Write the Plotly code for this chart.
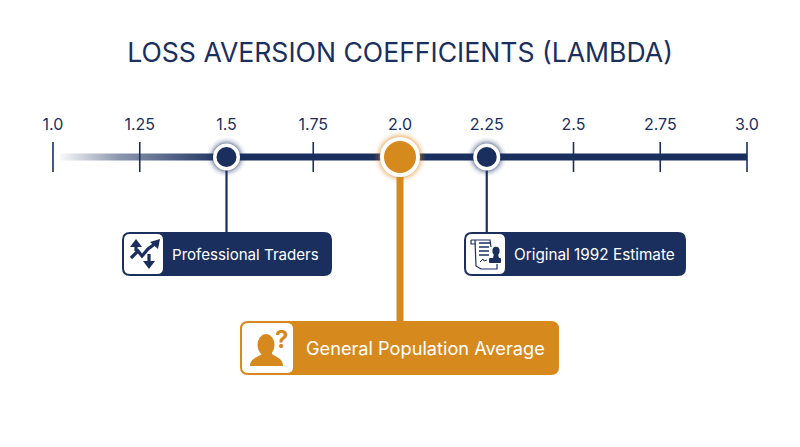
import plotly.graph_objects as go

W, H = 800, 447
NAVY = "#1a2f5e"
ORANGE = "#d68a1e"
FONT = "Inter, Lato, sans-serif"

# ---- data ----
title_text = "LOSS AVERSION COEFFICIENTS (LAMBDA)"
tick_values = [1.0, 1.25, 1.5, 1.75, 2.0, 2.25, 2.5, 2.75, 3.0]
tick_labels = ["1.0", "1.25", "1.5", "1.75", "2.0", "2.25", "2.5", "2.75", "3.0"]
plain_ticks = [1.0, 1.25, 1.75, 2.5, 2.75, 3.0]
categories = ["Professional Traders", "General Population Average", "Original 1992 Estimate"]
lambdas = [1.5, 2.0, 2.25]
fade_start, fade_end = 1.02, 1.5
line_end = 3.0

# ---- layout constants (pixels) ----
PX_PER_UNIT = 347
AXIS_Y = 157
cards = {
    categories[0]: dict(box=(122, 232, 332, 276), icon=(124, 234, 163, 274), tx=170, ty=254, size=15.1, color=NAVY),
    categories[1]: dict(box=(240, 321, 559, 375), icon=(242, 323, 293, 373), tx=304, ty=348, size=18.2, color=ORANGE),
    categories[2]: dict(box=(464, 232, 686, 276), icon=(466, 234, 505, 274), tx=512, ty=254, size=15.3, color=NAVY),
}


def px(x):
    return x / W


def py(y):
    return 1 - y / H


def pt(x, y):
    return f"{px(x):.5f},{py(y):.5f}"


def rrect(x0, y0, x1, y1, r):
    return (f"M{pt(x0 + r, y0)} L{pt(x1 - r, y0)} Q{pt(x1, y0)} {pt(x1, y0 + r)} "
            f"L{pt(x1, y1 - r)} Q{pt(x1, y1)} {pt(x1 - r, y1)} "
            f"L{pt(x0 + r, y1)} Q{pt(x0, y1)} {pt(x0, y1 - r)} "
            f"L{pt(x0, y0 + r)} Q{pt(x0, y0)} {pt(x0 + r, y0)} Z")


def poly(points, close=False):
    s = "M" + " L".join(pt(x, y) for x, y in points)
    return s + (" Z" if close else "")


def ellipse(cx, cy, rx, ry, **kw):
    return dict(type="circle", xref="paper", yref="paper", x0=px(cx - rx), x1=px(cx + rx),
                y0=py(cy + ry), y1=py(cy - ry), layer="above", **kw)


def fill_path(path, color):
    return dict(type="path", xref="paper", yref="paper", path=path, fillcolor=color,
                line=dict(width=0), layer="above")


def stroke_path(path, color, width):
    return dict(type="path", xref="paper", yref="paper", path=path, fillcolor="rgba(0,0,0,0)",
                line=dict(color=color, width=width), layer="above")


fig = go.Figure()

# faded start of the line
fig.add_trace(go.Scatter(
    x=[fade_start, fade_end, fade_end, fade_start, fade_start],
    y=[AXIS_Y - 3.5, AXIS_Y - 3.5, AXIS_Y + 3.5, AXIS_Y + 3.5, AXIS_Y - 3.5],
    mode="lines", line=dict(width=0), fill="toself",
    fillgradient=dict(type="horizontal",
                      colorscale=[[0, "rgba(26,47,94,0.03)"], [0.35, "rgba(26,47,94,0.5)"],
                                  [0.8, "rgba(26,47,94,0.85)"], [1, NAVY]]),
    hoverinfo="skip", showlegend=False))
# solid part
fig.add_trace(go.Scatter(x=[fade_end, line_end], y=[AXIS_Y, AXIS_Y], mode="lines",
                         line=dict(color=NAVY, width=7), hoverinfo="skip", showlegend=False))
# ticks
tx, ty = [], []
for v in plain_ticks:
    tx += [v, v, None]
    ty += [142, 172, None]
fig.add_trace(go.Scatter(x=tx, y=ty, mode="lines", line=dict(color=NAVY, width=1.6),
                         hoverinfo="skip", showlegend=False))

# connectors and markers
for name, val in zip(categories, lambdas):
    c = cards[name]
    big = c["color"] == ORANGE
    fig.add_trace(go.Scatter(x=[val, val], y=[AXIS_Y, c["box"][1] + 1], mode="lines",
                             line=dict(color=c["color"], width=7 if big else 2.2),
                             hoverinfo="skip", showlegend=False))
    ring = 40 if big else 27
    core = 32 if big else 20
    for extra, op in ((12, 0.06), (8, 0.10), (5, 0.16), (2, 0.24)):
        fig.add_trace(go.Scatter(x=[val], y=[AXIS_Y], mode="markers",
                                 marker=dict(size=ring + extra, color=c["color"], opacity=op, line=dict(width=0)),
                                 hoverinfo="skip", showlegend=False))
    fig.add_trace(go.Scatter(x=[val], y=[AXIS_Y], mode="markers",
                             marker=dict(size=ring, color="white", line=dict(width=0)),
                             hoverinfo="skip", showlegend=False))
    fig.add_trace(go.Scatter(x=[val], y=[AXIS_Y], mode="markers",
                             marker=dict(size=core, color=c["color"], line=dict(width=0)),
                             hoverinfo="skip", showlegend=False))

shapes, annotations = [], []
for name, c in cards.items():
    x0, y0, x1, y1 = c["box"]
    shapes.append(fill_path(rrect(x0, y0, x1, y1, 8), c["color"]))
    ix0, iy0, ix1, iy1 = c["icon"]
    shapes.append(fill_path(rrect(ix0, iy0, ix1, iy1, 6), "white"))
    annotations.append(dict(text=name, xref="paper", yref="paper", x=px(c["tx"]), y=py(c["ty"]),
                            xanchor="left", yanchor="middle", showarrow=False,
                            font=dict(family=FONT, size=c["size"], color="white")))

# icon: trader arrows
shapes.append(stroke_path(poly([(131, 258), (138, 251), (142, 256), (148, 249), (156, 243)]), NAVY, 3.2))
shapes.append(fill_path(poly([(160, 239), (158, 249), (150, 242)], True), NAVY))
shapes.append(stroke_path(poly([(136, 245), (136, 251)]), NAVY, 3.2))
shapes.append(fill_path(poly([(136, 239), (142, 247), (130, 247)], True), NAVY))
shapes.append(stroke_path(poly([(149, 254), (149, 263)]), NAVY, 3.2))
shapes.append(fill_path(poly([(149, 269), (143, 261), (155, 261)], True), NAVY))

# icon: document and stamp
shapes.append(stroke_path(poly([(471, 240), (490, 240), (491, 247)]), NAVY, 1.2))
shapes.append(stroke_path(poly([(471, 240), (471, 244), (476, 244)]), NAVY, 1.2))
shapes.append(stroke_path(poly([(475, 240), (476, 266), (481, 269), (497, 269), (497, 264)]), NAVY, 1.2))
for ly, lx in ((243, 491), (247, 489), (251, 489), (255, 489)):
    shapes.append(stroke_path(poly([(479, ly), (lx, ly)]), NAVY, 1.5))
shapes.append(stroke_path(poly([(480, 262), (483, 259), (484, 261), (487, 260)]), NAVY, 1))
shapes.append(ellipse(496, 251, 3.6, 4.2, fillcolor=NAVY, line=dict(width=0)))
shapes.append(fill_path(poly([(494, 254), (498, 254), (499, 258), (493, 258)], True), NAVY))
shapes.append(fill_path(rrect(489, 258, 501, 263, 1), NAVY))

# icon: person with question mark
shapes.append(ellipse(266, 345, 8.5, 11, fillcolor=ORANGE, line=dict(width=0)))
shapes.append(fill_path(
    f"M{pt(250, 366)} C{pt(250, 359)} {pt(256, 358)} {pt(262, 354)} L{pt(262, 350)} L{pt(272, 350)} "
    f"L{pt(272, 354)} C{pt(278, 358)} {pt(283, 359)} {pt(283, 366)} Z", ORANGE))
annotations.append(dict(text="<b>?</b>", xref="paper", yref="paper", x=px(281), y=py(339),
                        xanchor="center", yanchor="middle", showarrow=False,
                        font=dict(family=FONT, size=24, color=ORANGE)))

fig.update_layout(
    width=W, height=H, autosize=False,
    margin=dict(l=0, r=0, t=0, b=0),
    paper_bgcolor="white", plot_bgcolor="white",
    showlegend=False, shapes=shapes, annotations=annotations,
    title=dict(text=title_text, x=0.5, xanchor="center", xref="paper", y=py(53), yanchor="middle",
               yref="container", font=dict(family=FONT, size=26.6, color=NAVY)),
    xaxis=dict(range=[1 - 53 / PX_PER_UNIT, 3 + 53 / PX_PER_UNIT], domain=[0, 1], side="top",
               anchor="free", position=py(133), tickmode="array", tickvals=tick_values,
               ticktext=tick_labels, ticks="", showgrid=False, zeroline=False, showline=False,
               automargin=False, fixedrange=True,
               tickfont=dict(family=FONT, size=16, color=NAVY)),
    yaxis=dict(range=[H, 0], domain=[0, 1], visible=False, fixedrange=True),
)

fig.write_html("out.html", config=dict(displayModeBar=False),
               post_script="document.body.style.margin='0';")
